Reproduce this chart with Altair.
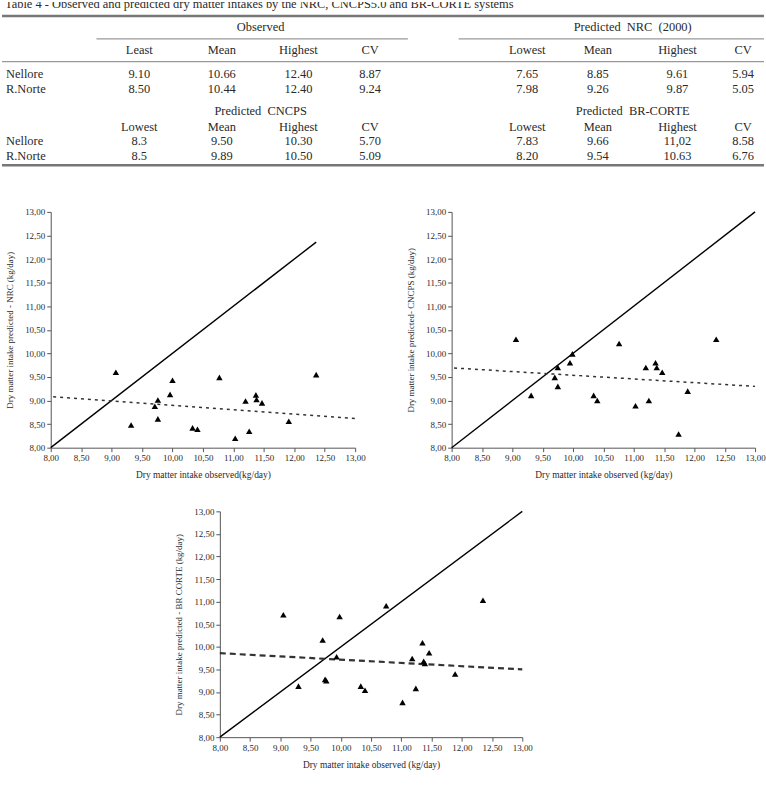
import altair as alt
import pandas as pd

# ---------------- table content ----------------
caption = "Table 4 -  Observed and predicted dry matter intakes by the NRC, CNCPS5.0 and BR-CORTE systems"
breeds = ["Nellore", "R.Norte"]
group_titles_top = ["Observed", "Predicted\u00a0 NRC\u00a0 (2000)"]
group_titles_bottom = ["Predicted\u00a0 CNCPS", "Predicted\u00a0 BR-CORTE"]
headers_top = ["Least", "Mean", "Highest", "CV", "Lowest", "Mean", "Highest", "CV"]
headers_bottom = ["Lowest", "Mean", "Highest", "CV", "Lowest", "Mean", "Highest", "CV"]
tab_observed = [["9.10", "10.66", "12.40", "8.87"], ["8.50", "10.44", "12.40", "9.24"]]
tab_nrc = [["7.65", "8.85", "9.61", "5.94"], ["7.98", "9.26", "9.87", "5.05"]]
tab_cncps = [["8.3", "9.50", "10.30", "5.70"], ["8.5", "9.89", "10.50", "5.09"]]
tab_brc = [["7.83", "9.66", "11,02", "8.58"], ["8.20", "9.54", "10.63", "6.76"]]

# ---------------- scatter data ----------------
obs_nrc = [9.07, 9.32, 9.71, 9.76, 9.76, 9.96, 10.00, 10.33, 10.41, 10.77, 11.03, 11.20, 11.26, 11.37, 11.38, 11.47, 11.91, 12.36]
pred_nrc = [9.60, 8.48, 8.88, 9.01, 8.61, 9.13, 9.43, 8.42, 8.39, 9.49, 8.20, 8.99, 8.35, 9.12, 9.02, 8.95, 8.56, 9.55]

obs_cncps = [9.06, 9.31, 9.70, 9.75, 9.75, 9.95, 9.99, 10.34, 10.40, 10.76, 11.03, 11.20, 11.25, 11.36, 11.38, 11.47, 11.74, 11.89, 12.36]
pred_cncps = [10.30, 9.11, 9.49, 9.70, 9.30, 9.80, 9.99, 9.11, 9.00, 10.21, 8.89, 9.70, 9.00, 9.80, 9.70, 9.60, 8.29, 9.20, 10.30]

obs_brc = [9.05, 9.30, 9.70, 9.74, 9.76, 9.93, 9.98, 10.33, 10.40, 10.75, 11.02, 11.18, 11.24, 11.35, 11.37, 11.39, 11.46, 11.89, 12.35]
pred_brc = [10.71, 9.13, 10.15, 9.28, 9.25, 9.78, 10.67, 9.13, 9.04, 10.91, 8.77, 9.74, 9.08, 10.09, 9.68, 9.63, 9.87, 9.40, 11.03]

identity_end = [12.36, 13.0, 13.0]
trend_x = [[8.04, 13.0], [8.04, 13.0], [8.0, 13.0]]
trend_y = [[9.08, 8.62], [9.69, 9.30], [9.86, 9.50]]

tick_values = [8.0, 8.5, 9.0, 9.5, 10.0, 10.5, 11.0, 11.5, 12.0, 12.5, 13.0]

# ---------------- layout (pixels) ----------------
FONT = "Liberation Serif"
TXT = "#2a2a2a"
PAGE_W = 766
TABLE_H = 201
row_label_x = 4
col_x = [138, 221, 298, 370, 528, 599, 679, 745]
group_x = [260, 634]
y_group = [25, 110]
y_header = [48, 126]
y_rows = [[72, 87], [140, 155]]
thick_rules = [(0, 766, 14), (0, 766, 164)]
thin_rules = [(95, 408, 37), (459, 766, 37), (0, 766, 60)]

cells = []
blocks = [(group_titles_top, headers_top, tab_observed, tab_nrc),
          (group_titles_bottom, headers_bottom, tab_cncps, tab_brc)]
for b, (gt, hd, left, right) in enumerate(blocks):
    for g, t in enumerate(gt):
        cells.append({"x": group_x[g], "y": y_group[b], "t": t})
    for c, h in enumerate(hd):
        cells.append({"x": col_x[c], "y": y_header[b], "t": h})
    for r in range(2):
        for c, v in enumerate(left[r] + right[r]):
            cells.append({"x": col_x[c], "y": y_rows[b][r], "t": v})
labels = [{"x": row_label_x, "y": y_rows[b][r], "t": breeds[r]} for b in range(2) for r in range(2)]

tx = alt.X("x:Q", scale=alt.Scale(domain=[0, PAGE_W], range=[0, PAGE_W]), axis=None)
ty = alt.Y("y:Q", scale=alt.Scale(domain=[0, TABLE_H], range=[0, TABLE_H]), axis=None)

thick = alt.Chart(pd.DataFrame([{"x": a, "x2": b, "y": y} for a, b, y in thick_rules])).mark_rule(
    color="#777", strokeWidth=2.5).encode(x=tx, x2="x2:Q", y=ty)
thin = alt.Chart(pd.DataFrame([{"x": a, "x2": b, "y": y} for a, b, y in thin_rules])).mark_rule(
    color="#999", strokeWidth=1.2).encode(x=tx, x2="x2:Q", y=ty)
cell_txt = alt.Chart(pd.DataFrame(cells)).mark_text(
    font=FONT, fontSize=12.5, color=TXT, align="center", baseline="middle").encode(x=tx, y=ty, text="t:N")
label_txt = alt.Chart(pd.DataFrame(labels)).mark_text(
    font=FONT, fontSize=12.5, color=TXT, align="left", baseline="middle").encode(x=tx, y=ty, text="t:N")
cap_txt = alt.Chart(pd.DataFrame([{"x": 3, "y": 2, "t": caption}])).mark_text(
    font=FONT, fontSize=12.5, color=TXT, align="left", baseline="middle", clip=True).encode(x=tx, y=ty, text="t:N")

table = alt.layer(thick, thin, cell_txt, label_txt, cap_txt).properties(width=PAGE_W, height=TABLE_H)

LABEL_EXPR = "replace(format(datum.value, '.2f'), '.', ',')"


def panel(obs, pred, end, trx, try_, ytitle, xtitle, w, h, dash, dash_w):
    sc = alt.Scale(domain=[8, 13], nice=False, zero=False)
    common = dict(values=tick_values, labelExpr=LABEL_EXPR, grid=False, labelFlush=False,
                  domainColor="#555", tickColor="#555", tickSize=4, labelPadding=2,
                  labelFont=FONT, labelFontSize=9, labelColor=TXT,
                  titleFont=FONT, titleFontWeight="normal", titleColor=TXT)
    xe = alt.X("x:Q", scale=sc, axis=alt.Axis(title=xtitle, titleFontSize=9.5, titlePadding=7, **common))
    ye = alt.Y("y:Q", scale=sc, axis=alt.Axis(title=ytitle, titleFontSize=9, titlePadding=10, **common))
    ident = alt.Chart(pd.DataFrame({"x": [8.0, end], "y": [8.0, end]})).mark_line(
        color="black", strokeWidth=1.4).encode(x=xe, y=ye)
    trend = alt.Chart(pd.DataFrame({"x": trx, "y": try_})).mark_line(
        color="#333", strokeWidth=dash_w, strokeDash=dash).encode(x=xe, y=ye)
    pts = alt.Chart(pd.DataFrame({"x": obs, "y": pred})).mark_point(
        shape="triangle-up", filled=True, color="black", opacity=1, size=42).encode(x=xe, y=ye)
    return alt.layer(ident, trend, pts).properties(width=w, height=h)


p1 = panel(obs_nrc, pred_nrc, identity_end[0], trend_x[0], trend_y[0],
           "Dry matter intake predicted - NRC (kg/day)", "Dry matter intake observed(kg/day)",
           306, 237, [3, 4], 1.5)
p2 = panel(obs_cncps, pred_cncps, identity_end[1], trend_x[1], trend_y[1],
           "Dry matter intake predicted- CNCPS (kg/day)", "Dry matter intake observed (kg/day)",
           305, 237, [3, 4], 1.5)
p3 = panel(obs_brc, pred_brc, identity_end[2], trend_x[2], trend_y[2],
           "Dry matter intake predicted - BR CORTE (kg/day)", "Dry matter intake observed (kg/day)",
           304, 227, [6, 4], 2.2)


def spacer(w, h=10):
    return alt.Chart(pd.DataFrame({"v": [0]})).mark_point(opacity=0).properties(width=w, height=h)


# nested concat rows count as zero height in a flush layout, so a spacer row sets the gap
row12 = alt.hconcat(spacer(40), alt.hconcat(p1, p2, spacing=97, bounds="flush"), spacing=9, bounds="flush")
row3 = alt.hconcat(spacer(160), p3, spacing=59, bounds="flush")

chart = alt.vconcat(table, row12, spacer(10, 281), row3, spacing=10, bounds="flush").properties(
    padding=0, background="white").configure_view(stroke=None)

chart.save("out.html", embed_options={"renderer": "svg", "actions": False})
